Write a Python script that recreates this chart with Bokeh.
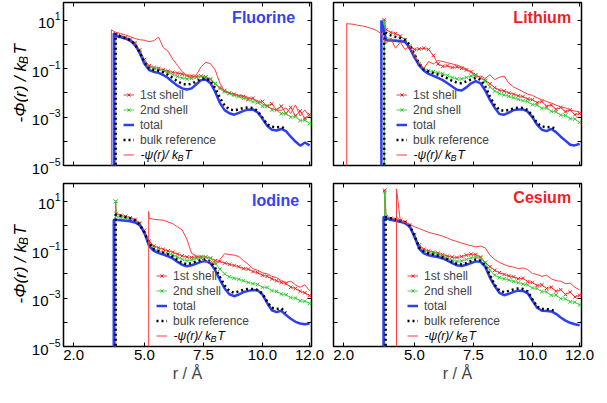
import math
from bokeh.plotting import figure
from bokeh.layouts import column, row
from bokeh.models import (Label, Legend, LegendItem, FixedTicker, LogTickFormatter,
                          LinearAxis, LogAxis, PrintfTickFormatter, CustomJSTickFormatter)
from bokeh.embed import file_html
from bokeh.resources import INLINE

# ---------------- data (log10 of -phi/kT) ----------------
R_GRID = [3.8, 4.0, 4.2, 4.4, 4.6, 4.8, 5.0,
          5.2, 5.4, 5.6, 5.8, 6.0, 6.2, 6.4,
          6.6, 6.8, 7.0, 7.2, 7.4, 7.6, 7.8,
          8.0, 8.2, 8.4, 8.6, 8.8, 9.0, 9.2,
          9.4, 9.6, 9.8, 10.0, 10.2, 10.4, 10.6,
          10.8, 11.0, 11.2, 11.4, 11.6, 11.8, 12.0]
R_LOW = [2.2, 2.4, 2.6, 2.8, 3.0, 3.2, 3.4, 3.6]

X_TICKS = [2.0, 5.0, 7.5, 10.0, 12.0]
Y_TICKS = [1e-5, 1e-3, 1e-1, 1e1]
Y_MINOR = [1e-4, 1e-2, 1e0]

# onset r and log10 value at onset, per series: (shell1, shell2, total, bulk, psi)
F_ONSET = [3.78, 3.78, 3.70, 3.78, 3.60]
F_PEAK = [0.45, 0.42, 0.47, 0.45, 0.61]
F_shell1 = [0.42, 0.36, 0.30, 0.22, 0.08, -0.22, -0.62,
            -0.88, -0.95, -0.98, -1.05, -1.10, -1.15, -1.18,
            -1.22, -1.28, -1.30, -1.32, -1.30, -1.35, -1.45,
            -1.62, -1.78, -1.90, -2.00, -2.05, -2.12, -2.15,
            -2.25, -2.22, -2.40, -2.35, -2.55, -2.45, -2.70,
            -2.55, -2.85, -2.60, -2.95, -2.75, -3.05, -2.90]
F_shell2 = [0.40, 0.33, 0.27, 0.18, 0.02, -0.30, -0.70,
            -0.92, -0.98, -1.02, -1.08, -1.15, -1.24, -1.32,
            -1.38, -1.42, -1.40, -1.36, -1.32, -1.33, -1.42,
            -1.62, -1.82, -1.95, -2.03, -2.10, -2.15, -2.22,
            -2.28, -2.36, -2.38, -2.55, -2.52, -2.70, -2.68,
            -2.86, -2.84, -3.00, -2.98, -3.14, -3.12, -3.26]
F_total = [0.35, 0.30, 0.25, 0.17, -0.01, -0.34, -0.79,
           -1.05, -1.13, -1.17, -1.26, -1.38, -1.55, -1.70,
           -1.81, -1.86, -1.81, -1.64, -1.47, -1.44, -1.60,
           -1.96, -2.42, -2.71, -2.84, -2.90, -2.82, -2.74,
           -2.69, -2.68, -2.81, -3.06, -3.36, -3.52, -3.55,
           -3.49, -3.58, -3.81, -4.01, -4.18, -4.05, -4.17]
F_bulk = [0.40, 0.33, 0.27, 0.18, 0.00, -0.32, -0.74,
          -0.98, -1.05, -1.08, -1.15, -1.25, -1.38, -1.52,
          -1.62, -1.66, -1.62, -1.52, -1.42, -1.40, -1.50,
          -1.80, -2.20, -2.52, -2.68, -2.72, -2.68, -2.62,
          -2.60, -2.62, -2.75, -3.02, -3.30, -3.40, -3.42,
          -3.40, -3.50, None, None, None, None, None]
F_psi = [0.50, 0.45, 0.40, 0.33, 0.25, 0.20, 0.18,
         0.12, 0.16, 0.31, -0.12, -0.27, -0.60, -0.86,
         -1.12, -1.29, -1.38, -1.25, -0.92, -0.73, -0.79,
         -1.05, -1.60, -1.94, -2.00, -2.05, -2.10, -2.12,
         -2.18, -2.25, -2.32, -2.45, -2.55, -2.65, -2.70,
         -2.72, -2.62, -2.85, -2.50, -2.95, -2.70, -3.00]

LI_ONSET = [3.72, 3.72, 3.60, 3.72, 2.13]
LI_PEAK = [1.02, 0.95, 1.00, 0.55, 0.87]
LI_shell1 = [0.62, 0.50, 0.45, 0.35, 0.20, -0.10, -0.20,
             -0.18, -0.15, -0.20, -0.45, -0.80, -0.90, -0.88,
             -0.95, -0.92, -0.98, -1.05, -1.12, -1.25, -1.38,
             -1.48, -1.62, -1.78, -1.88, -1.92, -2.00, -2.05,
             -2.12, -2.15, -2.25, -2.28, -2.40, -2.35, -2.55,
             -2.50, -2.68, -2.60, -2.78, -2.70, -2.90, -2.85]
LI_shell2 = [0.25, 0.22, 0.18, 0.15, 0.12, -0.05, -0.45,
             -0.80, -1.00, -1.08, -1.12, -1.16, -1.20, -1.28,
             -1.36, -1.42, -1.42, -1.36, -1.30, -1.28, -1.36,
             -1.52, -1.75, -1.92, -2.02, -2.08, -2.14, -2.20,
             -2.26, -2.32, -2.36, -2.48, -2.50, -2.64, -2.62,
             -2.76, -2.78, -2.92, -2.93, -3.06, -3.08, -3.22]
LI_total = [0.18, 0.17, 0.16, 0.14, 0.12, -0.14, -0.53,
            -0.86, -1.08, -1.21, -1.29, -1.38, -1.47, -1.60,
            -1.73, -1.87, -1.90, -1.77, -1.60, -1.51, -1.60,
            -1.90, -2.29, -2.61, -2.87, -2.90, -2.81, -2.71,
            -2.68, -2.68, -2.77, -3.00, -3.32, -3.52, -3.58,
            -3.49, -3.62, -3.81, -3.97, -4.14, -4.17, -4.10]
LI_bulk = [0.48, 0.38, 0.32, 0.27, 0.20, 0.00, -0.40,
           -0.78, -1.02, -1.12, -1.18, -1.24, -1.30, -1.40,
           -1.50, -1.58, -1.60, -1.52, -1.44, -1.38, -1.45,
           -1.72, -2.15, -2.50, -2.70, -2.74, -2.70, -2.64,
           -2.61, -2.62, -2.70, -2.95, -3.25, -3.38, -3.42,
           -3.40, -3.50, None, None, None, None, None]
LI_psi = [0.86, 0.84, 0.80, 0.77, 0.72, 0.66, 0.58, 0.45,
          0.05, 0.25, -0.15, 0.10, -0.20, -0.05, -0.45,
          -0.75, -0.99, -0.70, -0.80, -0.66, -0.70, -0.75,
          -0.80, -0.85, -0.92, -1.00, -1.15, -1.35, -1.30,
          -1.40, -1.25, -1.45, -1.35, -1.30, -1.60, -1.75,
          -1.85, -1.95, -2.05, -2.10, -2.20, -2.28, -2.35,
          -2.42, -2.50, -2.58, -2.62, -2.70, -2.75, -2.78]

I_ONSET = [3.78, 3.78, 3.70, 3.78, 5.18]
I_PEAK = [1.00, 1.00, 0.24, 0.45, 0.58]
I_shell1 = [0.50, 0.42, 0.38, 0.32, 0.25, 0.10, -0.20,
            -0.65, -0.85, -0.92, -0.98, -1.05, -1.10, -1.18,
            -1.25, -1.30, -1.32, -1.30, -1.28, -1.30, -1.35,
            -1.45, -1.48, -1.55, -1.60, -1.65, -1.70, -1.78,
            -1.80, -1.90, -1.95, -2.05, -2.10, -2.20, -2.28,
            -2.35, -2.40, -2.55, -2.60, -2.72, -2.78, -2.90]
I_shell2 = [0.40, 0.33, 0.30, 0.26, 0.20, 0.05, -0.30,
            -0.70, -0.95, -1.05, -1.12, -1.17, -1.22, -1.30,
            -1.40, -1.45, -1.42, -1.36, -1.32, -1.30, -1.35,
            -1.55, -1.80, -2.00, -2.12, -2.18, -2.22, -2.28,
            -2.35, -2.40, -2.43, -2.55, -2.56, -2.69, -2.72,
            -2.83, -2.86, -2.98, -3.00, -3.11, -3.13, -3.22]
I_total = [0.24, 0.22, 0.20, 0.18, 0.13, 0.02, -0.30,
           -0.85, -1.05, -1.14, -1.20, -1.27, -1.36, -1.50,
           -1.62, -1.68, -1.64, -1.57, -1.50, -1.47, -1.56,
           -1.85, -2.25, -2.60, -2.84, -2.92, -2.85, -2.75,
           -2.70, -2.66, -2.68, -2.85, -3.20, -3.50, -3.58,
           -3.52, -3.70, -3.85, -3.98, -4.05, -4.08, -4.05]
I_bulk = [0.45, 0.40, 0.35, 0.30, 0.22, 0.05, -0.30,
          -0.72, -0.98, -1.05, -1.12, -1.18, -1.28, -1.42,
          -1.55, -1.60, -1.55, -1.48, -1.42, -1.40, -1.50,
          -1.75, -2.12, -2.48, -2.70, -2.78, -2.72, -2.65,
          -2.62, -2.62, -2.66, -2.80, -3.15, -3.40, -3.45,
          -3.42, -3.60, None, None, None, None, None]
I_psi = [None, None, None, None, None, None, None,
         0.30, 0.26, 0.24, 0.22, 0.15, 0.08, -0.05,
         -0.18, -0.57, -1.15, -1.25, -1.35, -1.52, -1.45,
         -1.62, -1.40, -1.16, -1.20, -1.22, -1.28, -1.45,
         -1.60, -1.78, -1.85, -1.95, -2.00, -2.10, -2.15,
         -2.28, -2.35, -2.30, -2.45, -2.55, -2.45, -2.70]

CS_ONSET = [3.74, 3.74, 3.69, 3.78, 4.24]
CS_PEAK = [1.46, 1.40, 0.37, 0.40, 1.52]
CS_shell1 = [0.36, 0.30, 0.27, 0.22, 0.16, 0.02, -0.38,
             -0.80, -0.98, -1.05, -1.10, -1.14, -1.20, -1.26,
             -1.30, -1.32, -1.28, -1.22, -1.18, -1.20, -1.30,
             -1.52, -1.70, -1.85, -1.95, -2.02, -2.08, -2.12,
             -2.20, -2.18, -2.32, -2.35, -2.48, -2.45, -2.60,
             -2.55, -2.72, -2.65, -2.85, -2.75, -2.95, -2.88]
CS_shell2 = [0.30, 0.26, 0.22, 0.18, 0.12, -0.02, -0.45,
             -0.88, -1.05, -1.12, -1.16, -1.20, -1.26, -1.35,
             -1.44, -1.48, -1.46, -1.40, -1.33, -1.29, -1.34,
             -1.55, -1.85, -2.05, -2.15, -2.20, -2.25, -2.30,
             -2.36, -2.42, -2.45, -2.58, -2.60, -2.73, -2.74,
             -2.88, -2.87, -3.02, -3.03, -3.15, -3.17, -3.28]
CS_total = [0.30, 0.24, 0.20, 0.16, 0.10, -0.05, -0.45,
            -0.95, -1.15, -1.23, -1.27, -1.30, -1.36, -1.45,
            -1.55, -1.64, -1.67, -1.62, -1.55, -1.48, -1.50,
            -1.70, -2.15, -2.50, -2.78, -2.88, -2.82, -2.74,
            -2.69, -2.70, -2.80, -3.10, -3.40, -3.52, -3.53,
            -3.55, -3.65, -3.80, -3.93, -4.02, -4.08, -4.12]
CS_bulk = [0.35, 0.30, 0.25, 0.20, 0.14, 0.00, -0.40,
           -0.90, -1.08, -1.15, -1.20, -1.25, -1.32, -1.40,
           -1.50, -1.58, -1.60, -1.55, -1.46, -1.40, -1.45,
           -1.65, -2.05, -2.45, -2.68, -2.75, -2.70, -2.64,
           -2.60, -2.62, -2.72, -3.05, -3.35, -3.45, -3.45,
           -3.48, -3.55, None, None, None, None, None]
CS_psi = [None, None, None, 0.20, 0.12, 0.05, -0.05,
          -0.12, -0.20, -0.28, -0.33, -0.38, -0.44, -0.52,
          -0.60, -0.66, -0.72, -0.78, -0.83, -0.88, -0.85,
          -0.92, -1.22, -1.40, -1.52, -1.61, -1.68, -1.72,
          -1.78, -1.75, -1.82, -1.98, -2.02, -2.10, -2.05,
          -2.20, -2.28, -2.30, -2.40, -2.38, -2.55, -2.66]

PANEL_NAMES = ["Fluorine", "Lithium", "Iodine", "Cesium"]
LEGEND_LABELS = ["1st shell", "2nd shell", "total", "bulk reference"]

# ---------------- styling ----------------
RED = "#ee2222"
PSI_RED = "#ff3b3b"
GREEN = "#2fcc2f"
BLUE = "#2c3ff2"
TITLE_BLUE = "#3344ee"
FONT = "Liberation Sans"
FLOOR = 1e-6
FRAME_W, FRAME_H = 248, 163
LAB_W = 28
TOP_ROW_BORDERS = (2, 12)     # (top, bottom) border of the upper row
BOTTOM_ROW_BORDERS = (6, 40)  # (top, bottom) border of the lower row


def build(grid, onset, peak, vals):
    xs, ys = [onset, onset], [FLOOR, 10.0 ** peak]
    for r, v in zip(grid, vals):
        if v is not None and r > onset:
            xs.append(r)
            ys.append(10.0 ** v)
    return xs, ys


def style_axis(ax, labels=True):
    ax.axis_line_color = None
    ax.major_tick_in = 4
    ax.major_tick_out = 0
    ax.minor_tick_in = 4
    ax.minor_tick_out = 0
    ax.major_tick_line_color = "black"
    ax.minor_tick_line_color = "black"
    ax.major_label_text_font = FONT
    ax.major_label_text_color = "black"
    if labels:
        ax.major_label_text_font_size = "15px"
        ax.major_label_standoff = 3
    else:
        ax.major_label_text_font_size = "0px"
        ax.major_label_standoff = 0


def make_ylabel_fig(bottom):
    """Narrow, axis-less figure that carries the rotated y-axis title."""
    bt, bb = BOTTOM_ROW_BORDERS if bottom else TOP_ROW_BORDERS
    q = figure(frame_width=LAB_W, frame_height=FRAME_H, x_range=(0, 1), y_range=(0, 1),
               output_backend="svg", toolbar_location=None,
               x_axis_location=None, y_axis_location=None,
               min_border_left=0, min_border_right=0,
               min_border_top=bt, min_border_bottom=bb)
    q.grid.visible = False
    q.outline_line_color = None
    q.background_fill_color = "white"
    q.border_fill_color = "white"
    yl = dict(x_units="screen", y_units="screen", text_font=FONT, text_color="black",
              angle=math.pi / 2, text_align="left", text_baseline="alphabetic",
              text_font_style="italic")
    bx = 19.5
    q.add_layout(Label(x=bx, y=43.0, text="-Φ(r) / k", text_font_size="17px", **yl))
    q.add_layout(Label(x=bx + 3.5, y=101.5, text="B", text_font_size="12px", **yl))
    q.add_layout(Label(x=bx, y=111.0, text="T", text_font_size="17px", **yl))
    return q


def make_panel(name, title_color, title_x, title_y, legend_x, series, left, bottom):
    bt, bb = BOTTOM_ROW_BORDERS if bottom else TOP_ROW_BORDERS
    p = figure(frame_width=FRAME_W, frame_height=FRAME_H,
               x_range=(1.57, 12.08), y_range=(1e-5, 55), y_axis_type="log",
               output_backend="svg", toolbar_location=None,
               min_border_left=30 if left else 7,
               min_border_right=15,
               min_border_top=bt, min_border_bottom=bb)
    p.grid.visible = False
    p.outline_line_color = "black"
    p.outline_line_width = 1.5
    p.outline_line_alpha = 1.0
    p.background_fill_color = "white"
    p.border_fill_color = "white"

    xt = FixedTicker(ticks=X_TICKS)
    yt = FixedTicker(ticks=Y_TICKS, minor_ticks=Y_MINOR)
    blank = CustomJSTickFormatter(code="return ''")

    xa = p.xaxis[0]
    xa.ticker = xt
    xa.formatter = PrintfTickFormatter(format="%.1f") if bottom else blank
    style_axis(xa, bottom)
    if bottom:
        xa.axis_label = "r / Å"
        xa.axis_label_text_font = FONT
        xa.axis_label_text_font_size = "16px"
        xa.axis_label_text_font_style = "normal"
        xa.axis_label_standoff = 2

    ya = p.yaxis[0]
    ya.ticker = yt
    ya.formatter = LogTickFormatter() if left else blank
    style_axis(ya, left)

    top = LinearAxis(ticker=xt, formatter=blank)
    style_axis(top, False)
    p.add_layout(top, "above")
    right = LogAxis(ticker=yt, formatter=blank)
    style_axis(right, False)
    p.add_layout(right, "right")

    (g1, o1, k1, v1), (g2, o2, k2, v2), (g3, o3, k3, v3), (g4, o4, k4, v4), (g5, o5, k5, v5) = series

    x1, y1 = build(g1, o1, k1, v1)
    l1 = p.line(x1, y1, line_color=RED, line_width=1, line_alpha=0.85)
    s1 = p.scatter(x1[1:], y1[1:], marker="x", size=5, line_color=RED, line_width=1)
    x2, y2 = build(g2, o2, k2, v2)
    l2 = p.line(x2, y2, line_color=GREEN, line_width=1, line_alpha=0.85)
    s2 = p.scatter(x2[1:], y2[1:], marker="x", size=5, line_color=GREEN, line_width=1)
    x3, y3 = build(g3, o3, k3, v3)
    l3 = p.line(x3, y3, line_color=BLUE, line_width=2.5)
    x4, y4 = build(g4, o4, k4, v4)
    l4 = p.line(x4, y4, line_color="black", line_width=2.5, line_dash="2 3")
    x5, y5 = build(g5, o5, k5, v5)
    l5 = p.line(x5, y5, line_color=PSI_RED, line_width=1)

    legend = Legend(items=[
        LegendItem(label=LEGEND_LABELS[0], renderers=[l1, s1]),
        LegendItem(label=LEGEND_LABELS[1], renderers=[l2, s2]),
        LegendItem(label=LEGEND_LABELS[2], renderers=[l3]),
        LegendItem(label=LEGEND_LABELS[3], renderers=[l4]),
        LegendItem(label=" ", renderers=[l5]),
    ], location=(legend_x, 3), label_text_font=FONT, label_text_font_size="12px",
        glyph_width=11, glyph_height=15, label_height=15, label_standoff=6,
        spacing=0, padding=0, margin=0, border_line_alpha=0, background_fill_alpha=0)
    p.add_layout(legend)

    # psi legend label with subscript
    lx = legend_x + 11 + 6
    ly = 3 + 7.5
    common = dict(x_units="screen", y_units="screen", text_font=FONT, text_color="black",
                  text_baseline="middle", text_align="left", text_font_style="italic")
    p.add_layout(Label(x=lx, y=ly, text="-ψ(r)/ k", text_font_size="12px", **common))
    p.add_layout(Label(x=lx + 37, y=ly - 3, text="B", text_font_size="9px", **common))
    p.add_layout(Label(x=lx + 44, y=ly, text="T", text_font_size="12px", **common))

    p.add_layout(Label(x=title_x, y=title_y, text=name, text_font=FONT, text_font_size="16px",
                       text_font_style="bold", text_color=title_color,
                       text_align="right", text_baseline="middle"))
    return p


RL = R_LOW + R_GRID
pF = make_panel(PANEL_NAMES[0], TITLE_BLUE, 11.39, 10 ** 1.14, 60, [
    (R_GRID, F_ONSET[0], F_PEAK[0], F_shell1), (R_GRID, F_ONSET[1], F_PEAK[1], F_shell2),
    (R_GRID, F_ONSET[2], F_PEAK[2], F_total), (R_GRID, F_ONSET[3], F_PEAK[3], F_bulk),
    (R_GRID, F_ONSET[4], F_PEAK[4], F_psi)], left=True, bottom=False)
pLi = make_panel(PANEL_NAMES[1], RED, 11.64, 10 ** 1.13, 63, [
    (R_GRID, LI_ONSET[0], LI_PEAK[0], LI_shell1), (R_GRID, LI_ONSET[1], LI_PEAK[1], LI_shell2),
    (R_GRID, LI_ONSET[2], LI_PEAK[2], LI_total), (R_GRID, LI_ONSET[3], LI_PEAK[3], LI_bulk),
    (RL, LI_ONSET[4], LI_PEAK[4], LI_psi)], left=False, bottom=False)
pI = make_panel(PANEL_NAMES[2], TITLE_BLUE, 11.56, 10 ** 1.03, 93, [
    (R_GRID, I_ONSET[0], I_PEAK[0], I_shell1), (R_GRID, I_ONSET[1], I_PEAK[1], I_shell2),
    (R_GRID, I_ONSET[2], I_PEAK[2], I_total), (R_GRID, I_ONSET[3], I_PEAK[3], I_bulk),
    (R_GRID, I_ONSET[4], I_PEAK[4], I_psi)], left=True, bottom=True)
pCs = make_panel(PANEL_NAMES[3], RED, 11.64, 10 ** 1.16, 74, [
    (R_GRID, CS_ONSET[0], CS_PEAK[0], CS_shell1), (R_GRID, CS_ONSET[1], CS_PEAK[1], CS_shell2),
    (R_GRID, CS_ONSET[2], CS_PEAK[2], CS_total), (R_GRID, CS_ONSET[3], CS_PEAK[3], CS_bulk),
    (R_GRID, CS_ONSET[4], CS_PEAK[4], CS_psi)], left=False, bottom=True)

layout = column(row(make_ylabel_fig(False), pF, pLi),
                row(make_ylabel_fig(True), pI, pCs))
open("out.html", "w").write(file_html(layout, INLINE))
